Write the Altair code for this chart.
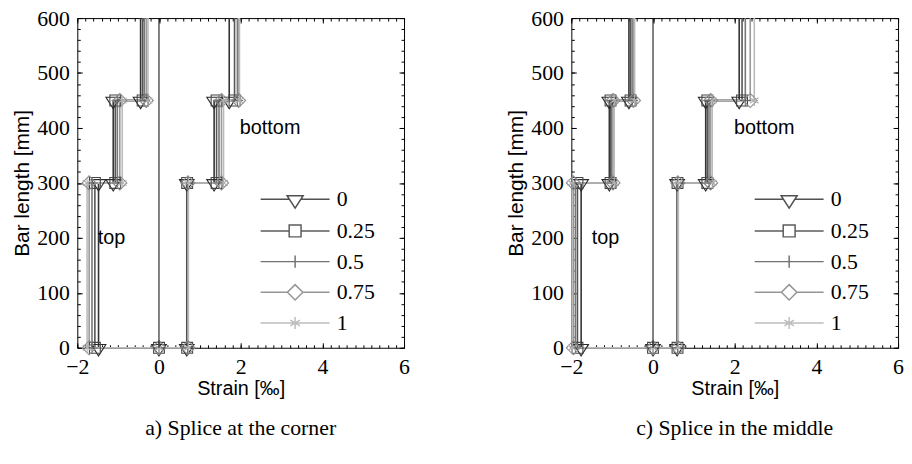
import altair as alt
import pandas as pd

SERIF = "Liberation Serif"
SANS = "Liberation Sans"

# ---------------- data ----------------
SERIES = ["0", "0.25", "0.5", "0.75", "1"]
LEVELS = [0, 300, 450, 600]          # bar length [mm] at segment ends
END_STRAIN = 0.0                      # strain at the bar end [‰]

# a) splice at the corner  (strain [‰] per series)
CORNER_TOP_0_300 = [-1.48, -1.57, -1.64, -1.71, -1.76]
CORNER_TOP_300_450 = [-1.12, -1.07, -1.02, -0.96, -0.90]
CORNER_TOP_450_600 = [-0.45, -0.40, -0.36, -0.31, -0.27]
CORNER_BOT_0_300 = [0.68, 0.69, 0.70, 0.71, 0.72]
CORNER_BOT_300_450 = [1.35, 1.41, 1.47, 1.53, 1.58]
CORNER_BOT_450_600 = [1.72, 1.85, 1.92, 1.95, 1.97]

# c) splice in the middle
MIDDLE_TOP_0_300 = [-1.76, -1.85, -1.90, -1.95, -1.98]
MIDDLE_TOP_300_450 = [-1.07, -1.04, -1.01, -0.98, -0.95]
MIDDLE_TOP_450_600 = [-0.59, -0.55, -0.51, -0.48, -0.45]
MIDDLE_BOT_0_300 = [0.59, 0.60, 0.60, 0.61, 0.62]
MIDDLE_BOT_300_450 = [1.29, 1.33, 1.37, 1.41, 1.45]
MIDDLE_BOT_450_600 = [2.11, 2.18, 2.26, 2.38, 2.48]

LABEL_TEXT = ["top", "bottom"]
LABEL_STRAIN = [-1.5, 1.98]
LABEL_LENGTH = [200, 400]

X_DOMAIN = [-2, 6]
Y_DOMAIN = [0, 600]
X_TICKS = [-2, 0, 2, 4, 6]
X_MINOR = [-2.0, -1.8, -1.6, -1.4, -1.2, -1.0, -0.8, -0.6, -0.4, -0.2, 0.0,
           0.2, 0.4, 0.6, 0.8, 1.0, 1.2, 1.4, 1.6, 1.8, 2.0, 2.2, 2.4, 2.6,
           2.8, 3.0, 3.2, 3.4, 3.6, 3.8, 4.0, 4.2, 4.4, 4.6, 4.8, 5.0, 5.2,
           5.4, 5.6, 5.8, 6.0]
Y_TICKS = [0, 100, 200, 300, 400, 500, 600]
Y_MINOR = [0, 20, 40, 60, 80, 100, 120, 140, 160, 180, 200, 220, 240, 260,
           280, 300, 320, 340, 360, 380, 400, 420, 440, 460, 480, 500, 520,
           540, 560, 580, 600]

# ---------------- styles ----------------
LINE_GREYS = ["#333333", "#555555", "#777777", "#999999", "#bbbbbb"]
MARK_GREYS = ["#2a2a2a", "#454545", "#6a6a6a", "#8a8a8a", "#b0b0b0"]
KEY_GREYS = ["#505050", "#5c5c5c", "#727272", "#959595", "#bdbdbd"]

MARKER_PATHS = [
    "M-1.35,-0.6L1.35,-0.6L0,1.5Z",
    "M-1,-1H1V1H-1Z",
    "M-1.05,0H1.05M0,-1.05V1.05",
    "M0,-1.3L1.3,0L0,1.3L-1.3,0Z",
    "M0,-1V1M-0.8,-0.5L0.8,0.5M-0.8,0.5L0.8,-0.5",
]
KEY_PATHS = [
    "M-5.8,0H-0.96M0.96,0H5.8M-1.35,-0.6L1.35,-0.6L0,1.5Z",
    "M-5.8,0H-1M1,0H5.8M-1,-1H1V1H-1Z",
    "M-5.8,0H5.8M0,-1.05V1.05",
    "M-5.8,0H-1.3M1.3,0H5.8M0,-1.3L1.3,0L0,1.3L-1.3,0Z",
    "M-5.8,0H5.8M0,-1V1M-0.8,-0.5L0.8,0.5M-0.8,0.5L0.8,-0.5",
]


def profile(t1, t2, t3, b1, b2, b3):
    rows = []
    L0, L1, L2, L3 = LEVELS
    for i, s in enumerate(SERIES):
        xs = [t3[i], t3[i], t2[i], t2[i], t1[i], t1[i], END_STRAIN,
              b1[i], b1[i], b2[i], b2[i], b3[i], b3[i]]
        ys = [L3, L2, L2, L1, L1, L0, L0, L0, L1, L1, L2, L2, L3]
        for k, (x, y) in enumerate(zip(xs, ys)):
            rows.append({"series": s, "strain": x, "length": y, "idx": k,
                         "marker": bool(y < L3)})
    return pd.DataFrame(rows)


corner_df = profile(CORNER_TOP_0_300, CORNER_TOP_300_450, CORNER_TOP_450_600,
                    CORNER_BOT_0_300, CORNER_BOT_300_450, CORNER_BOT_450_600)
middle_df = profile(MIDDLE_TOP_0_300, MIDDLE_TOP_300_450, MIDDLE_TOP_450_600,
                    MIDDLE_BOT_0_300, MIDDLE_BOT_300_450, MIDDLE_BOT_450_600)
labels_df = pd.DataFrame({"label": LABEL_TEXT, "strain": LABEL_STRAIN,
                          "length": LABEL_LENGTH})
zero_df = pd.DataFrame({"strain": [END_STRAIN], "y0": [Y_DOMAIN[0]],
                        "y1": [Y_DOMAIN[1]]})

XS = alt.Scale(domain=X_DOMAIN, nice=False, zero=False)
YS = alt.Scale(domain=Y_DOMAIN, nice=False, zero=False)


def axis(orient, values, size, labels=False, title=None, title_size=18,
         label_pad=0, title_pad=0):
    kw = dict(orient=orient, values=values, tickSize=size, offset=-size,
              domain=False, grid=False, ticks=True, tickColor="black",
              tickWidth=1, labels=labels)
    if labels:
        kw.update(labelFont=SERIF, labelFontSize=22, labelColor="black",
                  labelPadding=label_pad, labelFlush=False,
                  labelOverlap=False)
    if title:
        kw.update(title=title, titleFont=SANS, titleFontSize=title_size,
                  titleFontWeight="normal", titleColor="black",
                  titlePadding=title_pad)
    else:
        kw["title"] = None
    return alt.Axis(**kw)


def panel(df, caption):
    key_legend = alt.Legend(
        orient="none", legendX=209, legendY=172, title=None,
        symbolSize=144, symbolStrokeWidth=1.5, symbolOpacity=1,
        labelFont=SERIF, labelFontSize=22, labelColor="black",
        labelOffset=31, rowPadding=9, padding=0, labelLimit=0,
    )
    lines = alt.Chart(df).mark_line(strokeWidth=1.6).encode(
        x=alt.X("strain:Q", scale=XS,
                axis=axis("bottom", X_TICKS, 5, labels=True,
                          title="Strain [‰]", title_size=20,
                          label_pad=9, title_pad=1)),
        y=alt.Y("length:Q", scale=YS,
                axis=axis("left", Y_TICKS, 5, labels=True,
                          title="Bar length [mm]", title_size=21,
                          label_pad=8, title_pad=4)),
        color=alt.Color("series:N", legend=None,
                        scale=alt.Scale(domain=SERIES, range=LINE_GREYS)),
        detail="series:N",
        order="idx:Q",
    )
    points = alt.Chart(df).transform_filter("datum.marker").mark_point(
        filled=False, size=120, strokeWidth=1.1, opacity=1
    ).encode(
        x=alt.X("strain:Q", scale=XS, axis=axis("bottom", X_MINOR, 3)),
        y=alt.Y("length:Q", scale=YS, axis=axis("left", Y_MINOR, 3)),
        color=alt.Color("series:N", legend=None,
                        scale=alt.Scale(domain=SERIES, range=MARK_GREYS)),
        shape=alt.Shape("series:N", legend=None,
                        scale=alt.Scale(domain=SERIES, range=MARKER_PATHS)),
    )
    key = alt.Chart(df).transform_filter("datum.marker").mark_point(
        filled=False, opacity=0
    ).encode(
        x=alt.X("strain:Q", scale=XS, axis=axis("top", X_TICKS, 5)),
        y=alt.Y("length:Q", scale=YS, axis=axis("right", Y_TICKS, 5)),
        color=alt.Color("series:N", legend=key_legend,
                        scale=alt.Scale(domain=SERIES, range=KEY_GREYS)),
        shape=alt.Shape("series:N", legend=key_legend,
                        scale=alt.Scale(domain=SERIES, range=KEY_PATHS)),
    )
    zero = alt.Chart(zero_df).mark_rule(color="black", strokeWidth=1).encode(
        x=alt.X("strain:Q", scale=XS, axis=axis("top", X_MINOR, 3)),
        y=alt.Y("y0:Q", scale=YS, axis=axis("right", Y_MINOR, 3)),
        y2="y1:Q",
    )
    text = alt.Chart(labels_df).mark_text(
        align="left", baseline="middle", font=SANS, fontSize=20,
        color="black"
    ).encode(
        x=alt.X("strain:Q", scale=XS, axis=None),
        y=alt.Y("length:Q", scale=YS, axis=None),
        text="label:N",
    )
    return alt.layer(lines, points, key, zero, text).resolve_scale(
        color="independent", shape="independent"
    ).resolve_axis(x="independent", y="independent").properties(
        width=330, height=333,
        title=alt.TitleParams(caption, orient="bottom", anchor="middle",
                              frame="group", font=SERIF, fontSize=22,
                              fontWeight="normal", color="black", offset=20),
    )


left = panel(corner_df, "a) Splice at the corner")
right = panel(middle_df, "c) Splice in the middle")

chart = alt.hconcat(left, right, spacing=96).resolve_scale(
    color="independent", shape="independent"
).properties(
    padding={"left": 3, "top": -4, "right": 0, "bottom": 0},
    background="white",
).configure_view(stroke="black", strokeWidth=1)

chart.save("out.html", embed_options={"renderer": "svg", "actions": False})
